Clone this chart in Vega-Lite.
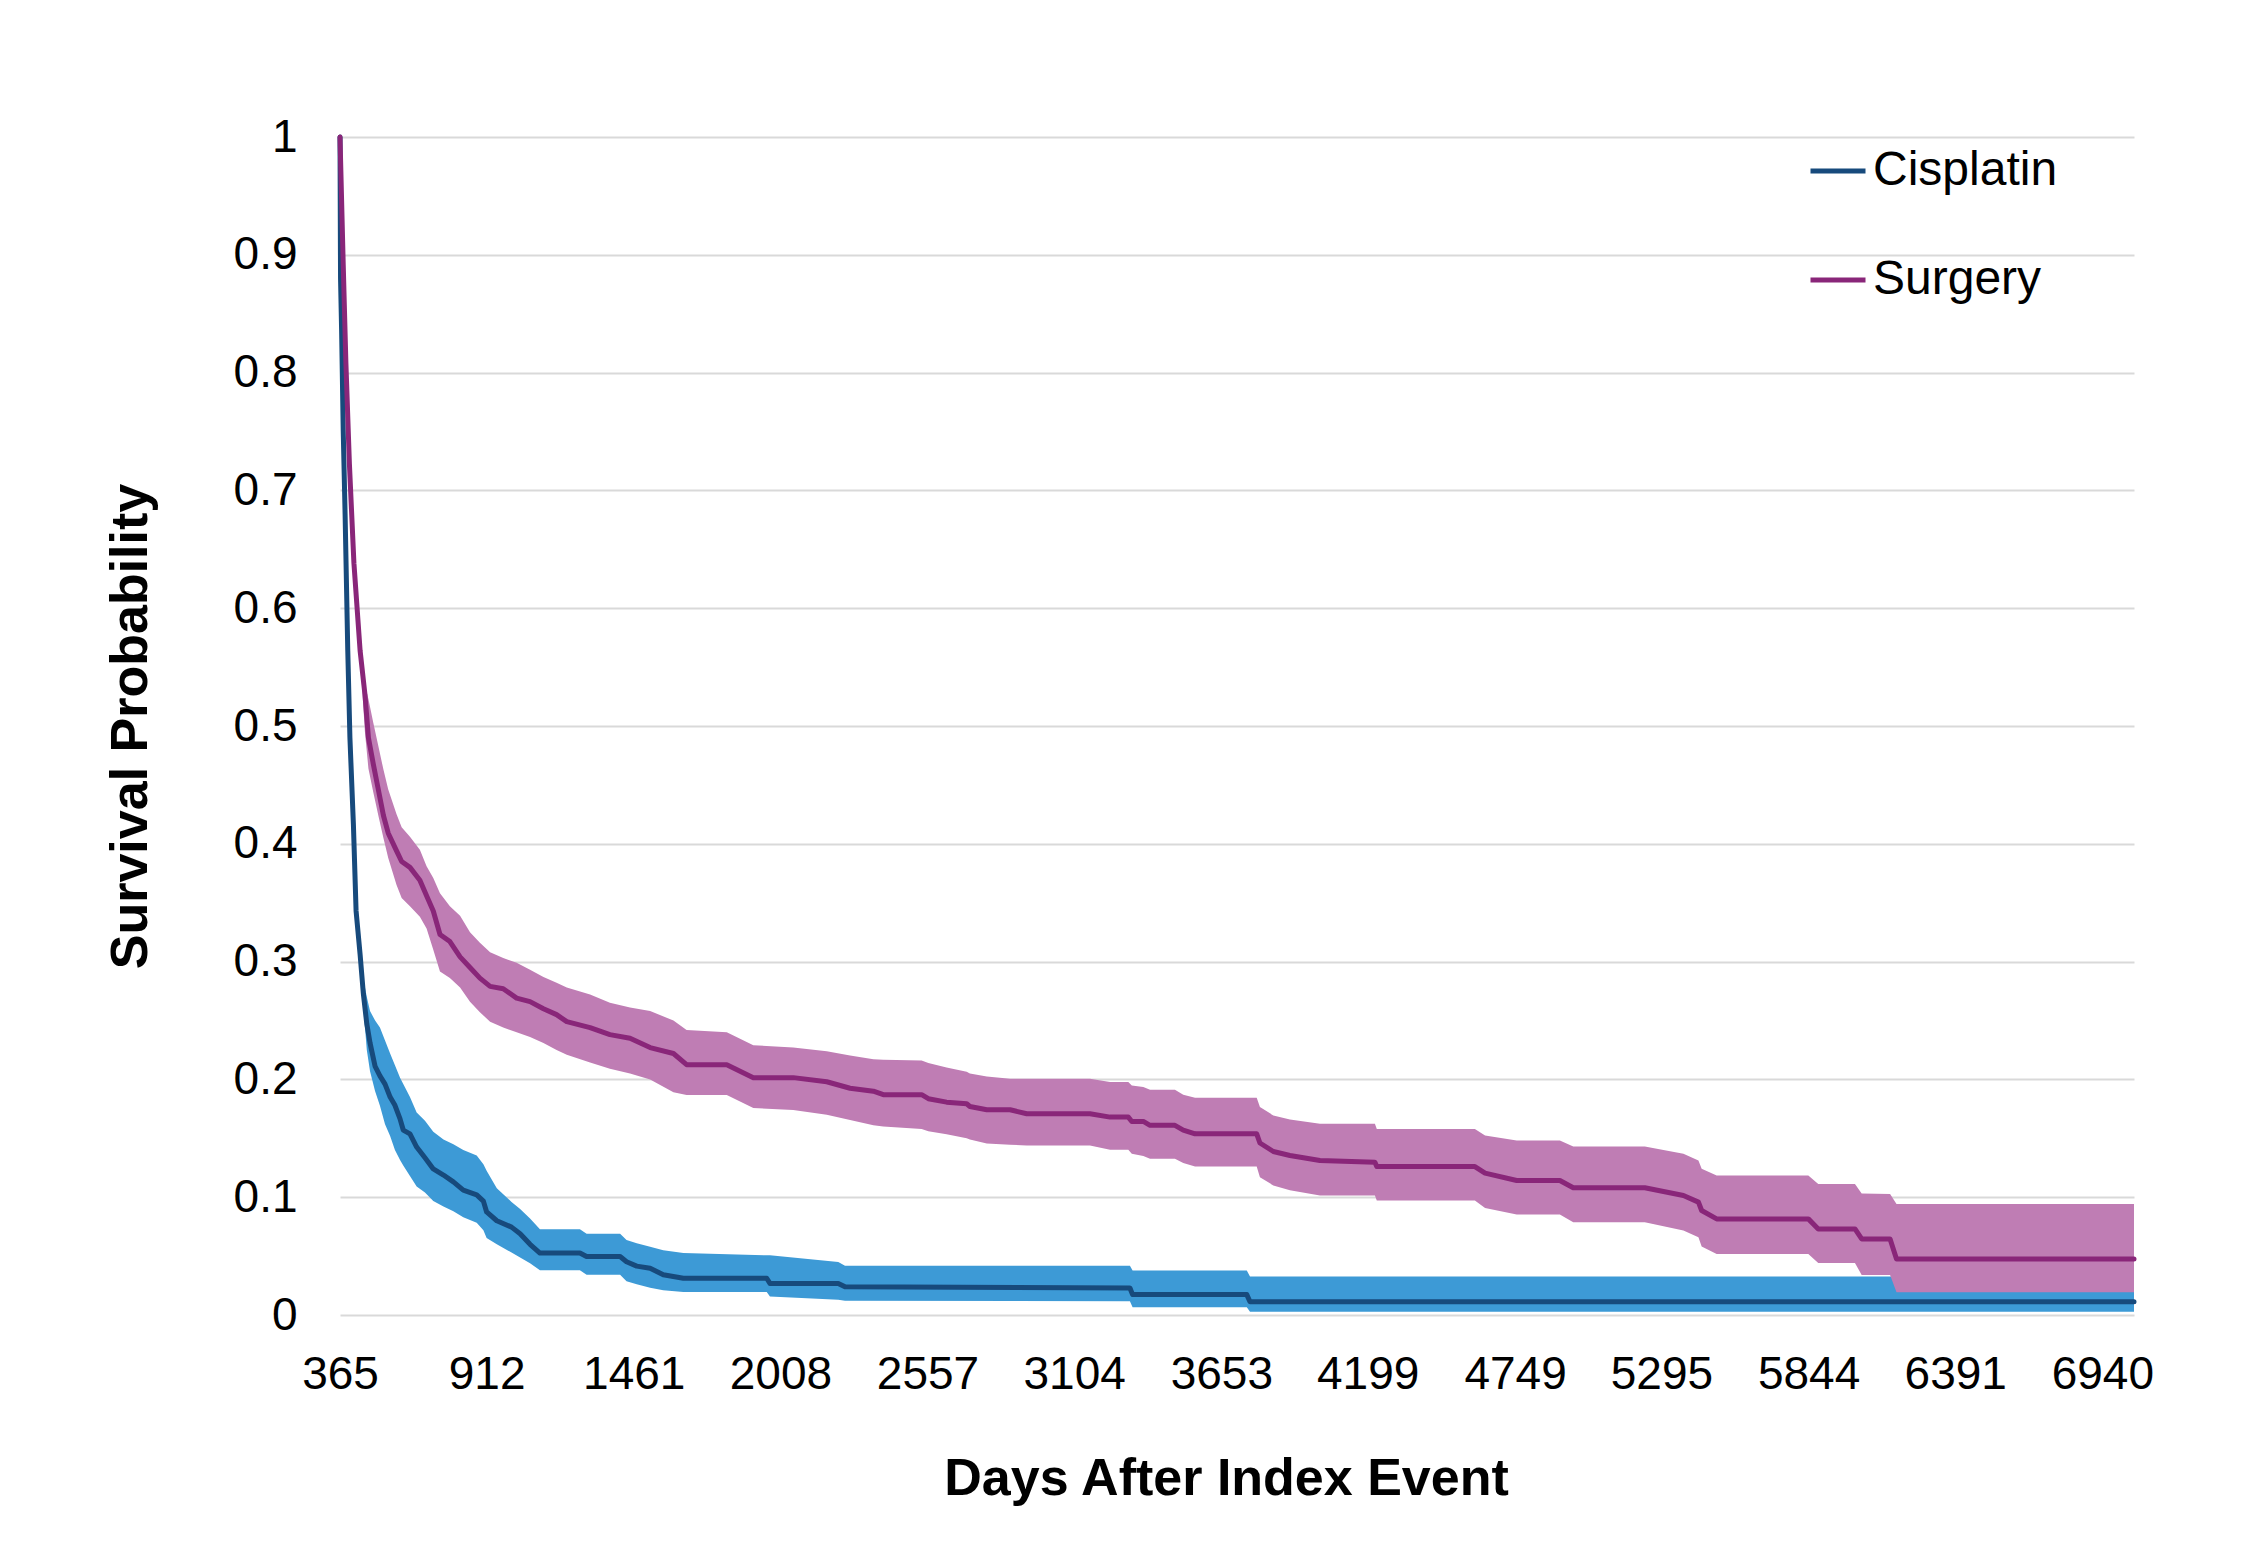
{
  "$schema": "https://vega.github.io/schema/vega-lite/v6.json",
  "width": 1794,
  "height": 1178,
  "autosize": {"type": "none"},
  "padding": {"left": 340, "top": 137, "right": 128, "bottom": 234},
  "background": "white",
  "config": {"view": {"stroke": null}, "font": "Liberation Sans"},
  "data": {"values": [
    {"group": "Cisplatin", "day": 365, "surv": 1.0, "lower": 1.0, "upper": 1.0},
    {"group": "Cisplatin", "day": 367, "surv": 0.88, "lower": 0.88, "upper": 0.88},
    {"group": "Cisplatin", "day": 371, "surv": 0.836, "lower": 0.836, "upper": 0.836},
    {"group": "Cisplatin", "day": 377, "surv": 0.751, "lower": 0.751, "upper": 0.751},
    {"group": "Cisplatin", "day": 384, "surv": 0.68, "lower": 0.68, "upper": 0.68},
    {"group": "Cisplatin", "day": 394, "surv": 0.564, "lower": 0.564, "upper": 0.564},
    {"group": "Cisplatin", "day": 402, "surv": 0.49, "lower": 0.49, "upper": 0.49},
    {"group": "Cisplatin", "day": 415, "surv": 0.4165, "lower": 0.4165, "upper": 0.4165},
    {"group": "Cisplatin", "day": 425, "surv": 0.343, "lower": 0.343, "upper": 0.343},
    {"group": "Cisplatin", "day": 440, "surv": 0.306, "lower": 0.303, "upper": 0.309},
    {"group": "Cisplatin", "day": 452, "surv": 0.273, "lower": 0.262, "upper": 0.285},
    {"group": "Cisplatin", "day": 465, "surv": 0.247, "lower": 0.225, "upper": 0.27},
    {"group": "Cisplatin", "day": 477, "surv": 0.231, "lower": 0.207, "upper": 0.258},
    {"group": "Cisplatin", "day": 496, "surv": 0.211, "lower": 0.19, "upper": 0.25},
    {"group": "Cisplatin", "day": 514, "surv": 0.203, "lower": 0.1776, "upper": 0.244},
    {"group": "Cisplatin", "day": 533, "surv": 0.196, "lower": 0.162, "upper": 0.233},
    {"group": "Cisplatin", "day": 552, "surv": 0.185, "lower": 0.152, "upper": 0.222},
    {"group": "Cisplatin", "day": 570, "surv": 0.178, "lower": 0.14, "upper": 0.212},
    {"group": "Cisplatin", "day": 589, "surv": 0.1665, "lower": 0.1316, "upper": 0.2015},
    {"group": "Cisplatin", "day": 601, "surv": 0.157, "lower": 0.127, "upper": 0.196},
    {"group": "Cisplatin", "day": 626, "surv": 0.1537, "lower": 0.118, "upper": 0.185},
    {"group": "Cisplatin", "day": 651, "surv": 0.1426, "lower": 0.109, "upper": 0.172},
    {"group": "Cisplatin", "day": 682, "surv": 0.1335, "lower": 0.104, "upper": 0.165},
    {"group": "Cisplatin", "day": 713, "surv": 0.124, "lower": 0.0967, "upper": 0.1555},
    {"group": "Cisplatin", "day": 751, "surv": 0.1188, "lower": 0.092, "upper": 0.149},
    {"group": "Cisplatin", "day": 788, "surv": 0.113, "lower": 0.088, "upper": 0.145},
    {"group": "Cisplatin", "day": 825, "surv": 0.106, "lower": 0.083, "upper": 0.14},
    {"group": "Cisplatin", "day": 875, "surv": 0.102, "lower": 0.0783, "upper": 0.1353},
    {"group": "Cisplatin", "day": 900, "surv": 0.0967, "lower": 0.072, "upper": 0.128},
    {"group": "Cisplatin", "day": 912, "surv": 0.0875, "lower": 0.0654, "upper": 0.1224},
    {"group": "Cisplatin", "day": 950, "surv": 0.08, "lower": 0.06, "upper": 0.1077},
    {"group": "Cisplatin", "day": 1005, "surv": 0.0746, "lower": 0.053, "upper": 0.096},
    {"group": "Cisplatin", "day": 1037, "surv": 0.069, "lower": 0.0489, "upper": 0.09},
    {"group": "Cisplatin", "day": 1074, "surv": 0.06, "lower": 0.044, "upper": 0.082},
    {"group": "Cisplatin", "day": 1111, "surv": 0.0526, "lower": 0.0379, "upper": 0.0728},
    {"group": "Cisplatin", "day": 1260, "surv": 0.0526, "lower": 0.0379, "upper": 0.0728},
    {"group": "Cisplatin", "day": 1285, "surv": 0.0496, "lower": 0.0342, "upper": 0.069},
    {"group": "Cisplatin", "day": 1410, "surv": 0.0496, "lower": 0.0342, "upper": 0.069},
    {"group": "Cisplatin", "day": 1434, "surv": 0.0452, "lower": 0.0287, "upper": 0.0636},
    {"group": "Cisplatin", "day": 1472, "surv": 0.0415, "lower": 0.026, "upper": 0.061},
    {"group": "Cisplatin", "day": 1522, "surv": 0.0397, "lower": 0.0232, "upper": 0.058},
    {"group": "Cisplatin", "day": 1571, "surv": 0.0342, "lower": 0.021, "upper": 0.055},
    {"group": "Cisplatin", "day": 1646, "surv": 0.0312, "lower": 0.0195, "upper": 0.0526},
    {"group": "Cisplatin", "day": 1957, "surv": 0.0312, "lower": 0.0195, "upper": 0.0507},
    {"group": "Cisplatin", "day": 1969, "surv": 0.0268, "lower": 0.0158, "upper": 0.0507},
    {"group": "Cisplatin", "day": 2224, "surv": 0.0268, "lower": 0.013, "upper": 0.045},
    {"group": "Cisplatin", "day": 2249, "surv": 0.0239, "lower": 0.0121, "upper": 0.0419},
    {"group": "Cisplatin", "day": 3312, "surv": 0.0229, "lower": 0.0116, "upper": 0.0419},
    {"group": "Cisplatin", "day": 3322, "surv": 0.0173, "lower": 0.0065, "upper": 0.0377},
    {"group": "Cisplatin", "day": 3748, "surv": 0.0173, "lower": 0.0065, "upper": 0.0377},
    {"group": "Cisplatin", "day": 3760, "surv": 0.0113, "lower": 0.0028, "upper": 0.0326},
    {"group": "Cisplatin", "day": 7058, "surv": 0.0113, "lower": 0.0028, "upper": 0.0326},

    {"group": "Surgery", "day": 365, "surv": 1.0, "lower": 1.0, "upper": 1.0},
    {"group": "Surgery", "day": 377, "surv": 0.892, "lower": 0.892, "upper": 0.892},
    {"group": "Surgery", "day": 387, "surv": 0.808, "lower": 0.808, "upper": 0.808},
    {"group": "Surgery", "day": 400, "surv": 0.723, "lower": 0.723, "upper": 0.723},
    {"group": "Surgery", "day": 417, "surv": 0.638, "lower": 0.638, "upper": 0.638},
    {"group": "Surgery", "day": 440, "surv": 0.564, "lower": 0.56, "upper": 0.568},
    {"group": "Surgery", "day": 458, "surv": 0.527, "lower": 0.495, "upper": 0.535},
    {"group": "Surgery", "day": 471, "surv": 0.49, "lower": 0.464, "upper": 0.523},
    {"group": "Surgery", "day": 489, "surv": 0.468, "lower": 0.444, "upper": 0.503},
    {"group": "Surgery", "day": 508, "surv": 0.446, "lower": 0.424, "upper": 0.483},
    {"group": "Surgery", "day": 527, "surv": 0.424, "lower": 0.405, "upper": 0.463},
    {"group": "Surgery", "day": 545, "surv": 0.409, "lower": 0.388, "upper": 0.446},
    {"group": "Surgery", "day": 576, "surv": 0.394, "lower": 0.365, "upper": 0.425},
    {"group": "Surgery", "day": 595, "surv": 0.385, "lower": 0.354, "upper": 0.414},
    {"group": "Surgery", "day": 626, "surv": 0.38, "lower": 0.347, "upper": 0.406},
    {"group": "Surgery", "day": 663, "surv": 0.369, "lower": 0.338, "upper": 0.395},
    {"group": "Surgery", "day": 688, "surv": 0.356, "lower": 0.328, "upper": 0.381},
    {"group": "Surgery", "day": 713, "surv": 0.343, "lower": 0.31, "upper": 0.371},
    {"group": "Surgery", "day": 738, "surv": 0.323, "lower": 0.2915, "upper": 0.358},
    {"group": "Surgery", "day": 775, "surv": 0.317, "lower": 0.286, "upper": 0.347},
    {"group": "Surgery", "day": 813, "surv": 0.304, "lower": 0.278, "upper": 0.339},
    {"group": "Surgery", "day": 850, "surv": 0.295, "lower": 0.266, "upper": 0.325},
    {"group": "Surgery", "day": 887, "surv": 0.286, "lower": 0.257, "upper": 0.316},
    {"group": "Surgery", "day": 925, "surv": 0.279, "lower": 0.249, "upper": 0.308},
    {"group": "Surgery", "day": 974, "surv": 0.277, "lower": 0.244, "upper": 0.303},
    {"group": "Surgery", "day": 1024, "surv": 0.269, "lower": 0.24, "upper": 0.299},
    {"group": "Surgery", "day": 1074, "surv": 0.266, "lower": 0.236, "upper": 0.293},
    {"group": "Surgery", "day": 1124, "surv": 0.26, "lower": 0.231, "upper": 0.287},
    {"group": "Surgery", "day": 1173, "surv": 0.255, "lower": 0.225, "upper": 0.282},
    {"group": "Surgery", "day": 1211, "surv": 0.249, "lower": 0.221, "upper": 0.278},
    {"group": "Surgery", "day": 1298, "surv": 0.244, "lower": 0.2143, "upper": 0.272},
    {"group": "Surgery", "day": 1372, "surv": 0.238, "lower": 0.209, "upper": 0.265},
    {"group": "Surgery", "day": 1447, "surv": 0.235, "lower": 0.205, "upper": 0.261},
    {"group": "Surgery", "day": 1522, "surv": 0.227, "lower": 0.2, "upper": 0.258},
    {"group": "Surgery", "day": 1609, "surv": 0.222, "lower": 0.189, "upper": 0.25},
    {"group": "Surgery", "day": 1658, "surv": 0.2125, "lower": 0.1868, "upper": 0.242},
    {"group": "Surgery", "day": 1808, "surv": 0.2125, "lower": 0.1868, "upper": 0.24},
    {"group": "Surgery", "day": 1907, "surv": 0.2015, "lower": 0.1757, "upper": 0.229},
    {"group": "Surgery", "day": 2056, "surv": 0.2015, "lower": 0.174, "upper": 0.227},
    {"group": "Surgery", "day": 2181, "surv": 0.198, "lower": 0.17, "upper": 0.224},
    {"group": "Surgery", "day": 2268, "surv": 0.1925, "lower": 0.1655, "upper": 0.2202},
    {"group": "Surgery", "day": 2355, "surv": 0.19, "lower": 0.161, "upper": 0.217},
    {"group": "Surgery", "day": 2392, "surv": 0.187, "lower": 0.16, "upper": 0.2167},
    {"group": "Surgery", "day": 2535, "surv": 0.187, "lower": 0.158, "upper": 0.2161},
    {"group": "Surgery", "day": 2560, "surv": 0.1836, "lower": 0.156, "upper": 0.214},
    {"group": "Surgery", "day": 2628, "surv": 0.1807, "lower": 0.1535, "upper": 0.21},
    {"group": "Surgery", "day": 2703, "surv": 0.1793, "lower": 0.15, "upper": 0.2065},
    {"group": "Surgery", "day": 2715, "surv": 0.177, "lower": 0.149, "upper": 0.205},
    {"group": "Surgery", "day": 2778, "surv": 0.1742, "lower": 0.1455, "upper": 0.2025},
    {"group": "Surgery", "day": 2865, "surv": 0.1742, "lower": 0.1445, "upper": 0.2006},
    {"group": "Surgery", "day": 2927, "surv": 0.1708, "lower": 0.1439, "upper": 0.2006},
    {"group": "Surgery", "day": 3163, "surv": 0.1708, "lower": 0.1439, "upper": 0.2006},
    {"group": "Surgery", "day": 3238, "surv": 0.168, "lower": 0.1402, "upper": 0.1977},
    {"group": "Surgery", "day": 3306, "surv": 0.168, "lower": 0.1402, "upper": 0.1977},
    {"group": "Surgery", "day": 3319, "surv": 0.1643, "lower": 0.1368, "upper": 0.1949},
    {"group": "Surgery", "day": 3362, "surv": 0.1643, "lower": 0.135, "upper": 0.1935},
    {"group": "Surgery", "day": 3387, "surv": 0.161, "lower": 0.1326, "upper": 0.1912},
    {"group": "Surgery", "day": 3480, "surv": 0.161, "lower": 0.1326, "upper": 0.1912},
    {"group": "Surgery", "day": 3511, "surv": 0.157, "lower": 0.129, "upper": 0.187},
    {"group": "Surgery", "day": 3555, "surv": 0.1538, "lower": 0.1261, "upper": 0.1844},
    {"group": "Surgery", "day": 3785, "surv": 0.1538, "lower": 0.1261, "upper": 0.1844},
    {"group": "Surgery", "day": 3797, "surv": 0.146, "lower": 0.117, "upper": 0.1765},
    {"group": "Surgery", "day": 3847, "surv": 0.1388, "lower": 0.11, "upper": 0.1694},
    {"group": "Surgery", "day": 3909, "surv": 0.1354, "lower": 0.106, "upper": 0.166},
    {"group": "Surgery", "day": 4021, "surv": 0.1312, "lower": 0.1014, "upper": 0.1623},
    {"group": "Surgery", "day": 4226, "surv": 0.1297, "lower": 0.1014, "upper": 0.1623},
    {"group": "Surgery", "day": 4233, "surv": 0.126, "lower": 0.0972, "upper": 0.158},
    {"group": "Surgery", "day": 4599, "surv": 0.126, "lower": 0.0972, "upper": 0.158},
    {"group": "Surgery", "day": 4637, "surv": 0.1204, "lower": 0.0909, "upper": 0.1524},
    {"group": "Surgery", "day": 4755, "surv": 0.1142, "lower": 0.0853, "upper": 0.1482},
    {"group": "Surgery", "day": 4916, "surv": 0.1142, "lower": 0.0853, "upper": 0.1482},
    {"group": "Surgery", "day": 4966, "surv": 0.108, "lower": 0.0788, "upper": 0.143},
    {"group": "Surgery", "day": 5233, "surv": 0.108, "lower": 0.0788, "upper": 0.143},
    {"group": "Surgery", "day": 5377, "surv": 0.1014, "lower": 0.0717, "upper": 0.1368},
    {"group": "Surgery", "day": 5433, "surv": 0.0958, "lower": 0.066, "upper": 0.1312},
    {"group": "Surgery", "day": 5445, "surv": 0.0887, "lower": 0.0581, "upper": 0.1241},
    {"group": "Surgery", "day": 5501, "surv": 0.0816, "lower": 0.0518, "upper": 0.1184},
    {"group": "Surgery", "day": 5843, "surv": 0.0816, "lower": 0.0518, "upper": 0.1184},
    {"group": "Surgery", "day": 5880, "surv": 0.0731, "lower": 0.0442, "upper": 0.1113},
    {"group": "Surgery", "day": 6017, "surv": 0.0731, "lower": 0.0442, "upper": 0.1113},
    {"group": "Surgery", "day": 6042, "surv": 0.0646, "lower": 0.034, "upper": 0.1031},
    {"group": "Surgery", "day": 6148, "surv": 0.0646, "lower": 0.034, "upper": 0.1028},
    {"group": "Surgery", "day": 6172, "surv": 0.0476, "lower": 0.0193, "upper": 0.0943},
    {"group": "Surgery", "day": 7058, "surv": 0.0476, "lower": 0.0193, "upper": 0.0943}
  ]},
  "encoding": {
    "x": {
      "field": "day",
      "type": "quantitative",
      "scale": {"domain": [365, 7058], "nice": false, "zero": false},
      "axis": {
        "title": "Days After Index Event",
        "values": [365, 912, 1461, 2008, 2557, 3104, 3653, 4199, 4749, 5295, 5844, 6391, 6940],
        "format": "d",
        "grid": false,
        "domain": false,
        "ticks": false,
        "labelFlush": false,
        "labelOverlap": false,
        "labelFontSize": 46,
        "labelColor": "black",
        "labelPadding": 37,
        "titleFontSize": 52,
        "titleFontWeight": "bold",
        "titleColor": "black",
        "titlePadding": 56,
        "titleX": 886
      }
    }
  },
  "layer": [
    {
      "mark": {"type": "area", "opacity": 1},
      "encoding": {
        "y": {
          "field": "lower",
          "type": "quantitative",
          "scale": {"domain": [0, 1], "nice": false, "zero": true},
          "axis": {
            "title": "Survival Probability",
            "values": [0, 0.1, 0.2, 0.3, 0.4, 0.5, 0.6, 0.7, 0.8, 0.9, 1],
            "format": ".1~f",
            "grid": true,
            "gridColor": "#d9d9d9",
            "gridWidth": 2,
            "domain": false,
            "ticks": false,
            "labelFontSize": 46,
            "labelColor": "black",
            "labelPadding": 43,
            "titleFontSize": 52,
            "titleFontWeight": "bold",
            "titleColor": "black",
            "titlePadding": 76
          }
        },
        "y2": {"field": "upper"},
        "color": {
          "field": "group",
          "type": "nominal",
          "scale": {"domain": ["Cisplatin", "Surgery"], "range": ["#3D9AD6", "#BF7DB4"]},
          "legend": null
        }
      }
    },
    {
      "mark": {"type": "line", "strokeWidth": 5, "strokeCap": "round", "strokeJoin": "round"},
      "encoding": {
        "y": {"field": "surv", "type": "quantitative", "title": "Survival Probability"},
        "color": {
          "field": "group",
          "type": "nominal",
          "scale": {"domain": ["Cisplatin", "Surgery"], "range": ["#174A7C", "#892679"]},
          "legend": {
            "title": null,
            "orient": "none",
            "legendX": 1468,
            "legendY": 4,
            "padding": 0,
            "symbolType": "stroke",
            "symbolSize": 3025,
            "symbolStrokeWidth": 5,
            "labelFontSize": 48,
            "labelLimit": 0,
            "labelColor": "black",
            "labelOffset": 5,
            "rowPadding": 55
          }
        }
      }
    }
  ],
  "resolve": {"scale": {"color": "independent"}}
}
